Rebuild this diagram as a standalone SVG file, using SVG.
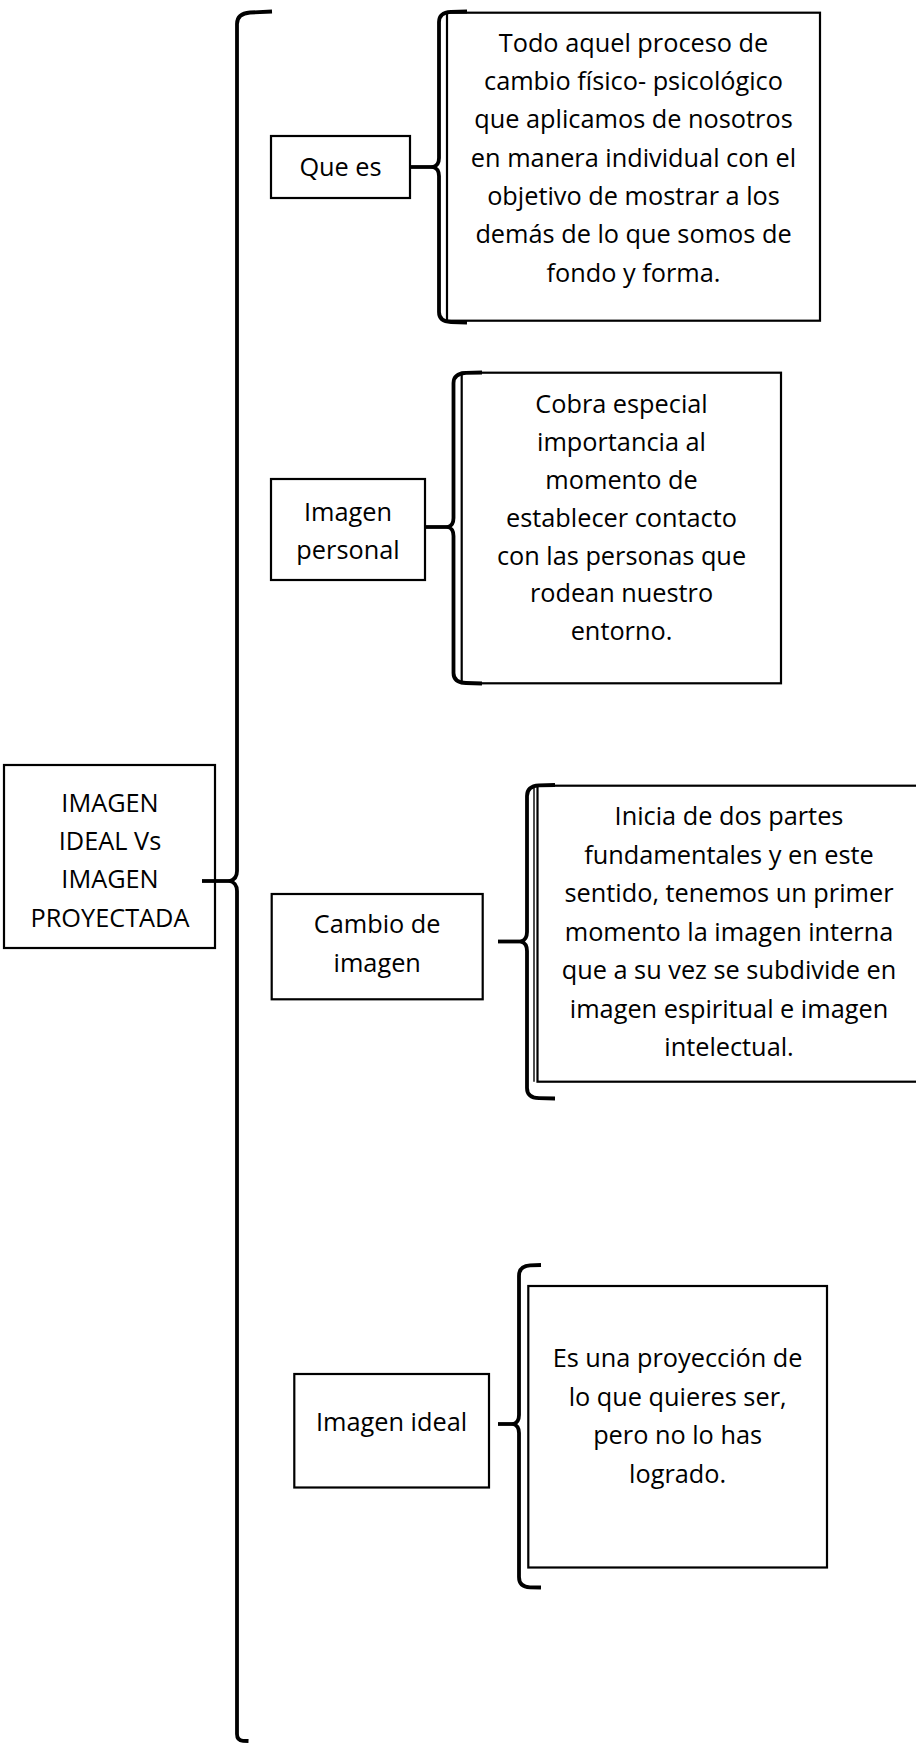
<svg xmlns="http://www.w3.org/2000/svg" width="916" height="1743" viewBox="0 0 916 1743">
<style>
.box{fill:#fff;stroke:#000;stroke-width:2.2}
.thin{fill:none;stroke:#000;stroke-width:1.4}
.br{fill:none;stroke:#000;stroke-width:3.8;stroke-linecap:butt;stroke-linejoin:round}
.t{font-family:"Open Sans","Noto Sans",sans-serif;font-size:25.3px;fill:#000;text-anchor:middle}
</style>
<rect width="916" height="1743" fill="#fff"/>
<g id="root">
<rect class="box" x="4" y="765" width="211" height="183"/>
<text class="t" x="110" y="811.7">IMAGEN</text>
<text class="t" x="110" y="850">IDEAL Vs</text>
<text class="t" x="110" y="888.3">IMAGEN</text>
<text class="t" x="110" y="926.7">PROYECTADA</text>
</g>
<g id="que-es">
<rect class="box" x="271" y="136" width="139" height="62"/>
<text class="t" x="340.5" y="176">Que es</text>
</g>
<g id="def-que-es">
<rect class="box" x="447" y="12.7" width="373" height="308"/>
<text class="t" x="633.5" y="51.5">Todo aquel proceso de</text>
<text class="t" x="633.5" y="89.9">cambio físico- psicológico</text>
<text class="t" x="633.5" y="128.2">que aplicamos de nosotros</text>
<text class="t" x="633.5" y="166.6">en manera individual con el</text>
<text class="t" x="633.5" y="204.9">objetivo de mostrar a los</text>
<text class="t" x="633.5" y="243.3">demás de lo que somos de</text>
<text class="t" x="633.5" y="281.6">fondo y forma.</text>
</g>
<g id="imagen-personal">
<rect class="box" x="271" y="479" width="154" height="101"/>
<text class="t" x="348" y="521">Imagen</text>
<text class="t" x="348" y="559">personal</text>
</g>
<g id="def-imagen-personal">
<rect class="box" x="461.7" y="372.7" width="319.3" height="310.6"/>
<text class="t" x="621.5" y="412.7">Cobra especial</text>
<text class="t" x="621.5" y="450.6">importancia al</text>
<text class="t" x="621.5" y="488.6">momento de</text>
<text class="t" x="621.5" y="526.5">establecer contacto</text>
<text class="t" x="621.5" y="564.5">con las personas que</text>
<text class="t" x="621.5" y="602.4">rodean nuestro</text>
<text class="t" x="621.5" y="640.4">entorno.</text>
</g>
<g id="cambio-imagen">
<rect class="box" x="271.7" y="894" width="211" height="105.3"/>
<text class="t" x="377.2" y="933.3">Cambio de</text>
<text class="t" x="377.2" y="971.7">imagen</text>
</g>
<g id="def-cambio-imagen">
<rect class="box" x="537.5" y="785.7" width="390" height="296"/>
<line class="thin" x1="534" y1="785.7" x2="534" y2="1081.7"/>
<text class="t" x="729" y="825">Inicia de dos partes</text>
<text class="t" x="729" y="863.5">fundamentales y en este</text>
<text class="t" x="729" y="902">sentido, tenemos un primer</text>
<text class="t" x="729" y="940.5">momento la imagen interna</text>
<text class="t" x="729" y="979">que a su vez se subdivide en</text>
<text class="t" x="729" y="1017.5">imagen espiritual e imagen</text>
<text class="t" x="729" y="1056">intelectual.</text>
</g>
<g id="imagen-ideal">
<rect class="box" x="294.3" y="1374" width="194.7" height="113.5"/>
<text class="t" x="391.6" y="1431">Imagen ideal</text>
</g>
<g id="def-imagen-ideal">
<rect class="box" x="528.3" y="1286" width="298.7" height="281.5"/>
<text class="t" x="677.6" y="1367">Es una proyección de</text>
<text class="t" x="677.6" y="1405.5">lo que quieres ser,</text>
<text class="t" x="677.6" y="1444">pero no lo has</text>
<text class="t" x="677.6" y="1482.5">logrado.</text>
</g>
<g id="connectors">
<path class="br" d="M272 11.5 L250 12.5 Q237 13.5 237 24 L237 871 Q237 879 230 881 Q237 883 237 891 L237 1734 Q237 1740.5 243 1740.8 L248.5 1741"/>
<line class="br" x1="202" y1="881" x2="231" y2="881"/>
<path class="br" d="M467 11.5 L451 11.8 Q439 12.5 439 22 L439 158 Q439 165.5 433 167 Q439 168.5 439 176 L439 312 Q439 321.5 451 322 L467 322.5"/>
<line class="br" x1="410" y1="167" x2="434" y2="167"/>
<path class="br" d="M482 372.5 L466 372.8 Q453.5 373.5 453.5 383 L453.5 518 Q453.5 525.5 448 527 Q453.5 528.5 453.5 536 L453.5 673 Q453.5 682.5 466 683 L482 683.5"/>
<line class="br" x1="425" y1="527" x2="449" y2="527"/>
<path class="br" d="M555 785 L539 785.3 Q527 786 527 796 L527 932 Q527 939.8 521 941.5 Q527 943.2 527 951 L527 1088 Q527 1097.8 539 1098.2 L555 1098.5"/>
<line class="br" x1="498" y1="941.5" x2="522" y2="941.5"/>
<path class="br" d="M541 1265 L530 1265.3 Q519 1266 519 1276 L519 1415 Q519 1422.3 513.5 1424 Q519 1425.7 519 1433 L519 1577 Q519 1587 530 1587.3 L541 1587.5"/>
<line class="br" x1="498" y1="1424" x2="514.5" y2="1424"/>
</g>
</svg>
